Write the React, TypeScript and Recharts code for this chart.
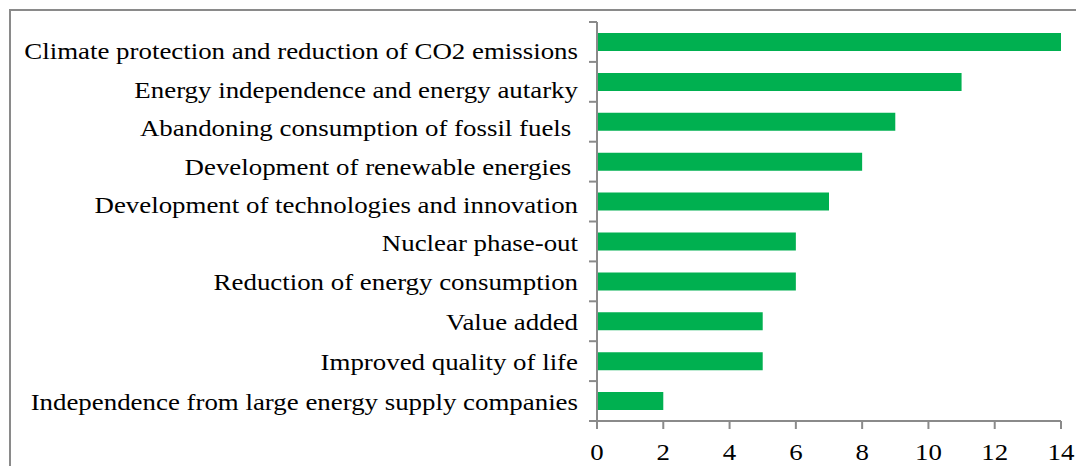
import React from 'react';
import { BarChart, Bar, XAxis, YAxis } from 'recharts';

const motives = [
  'Climate protection and reduction of CO2 emissions',
  'Energy independence and energy autarky',
  'Abandoning consumption of fossil fuels\u00a0',
  'Development of renewable energies\u00a0',
  'Development of technologies and innovation',
  'Nuclear phase-out',
  'Reduction of energy consumption',
  'Value added',
  'Improved quality of life',
  'Independence from large energy supply companies',
];

const mentions = [14, 11, 9, 8, 7, 6, 6, 5, 5, 2];

const xTicks = [0, 2, 4, 6, 8, 10, 12, 14];

const data = motives.map((motive, i) => ({ motive, count: mentions[i] }));

const FONT = '"Liberation Serif", "Times New Roman", serif';
const AXIS_GRAY = '#8a8a8a';
const W = 1076;
const H = 466;
const MARGIN = { top: 22, right: 15, bottom: 0, left: 0 };
const Y_AXIS_W = 597;
const X_AXIS_H = 45;
const PLOT_H = H - MARGIN.top - MARGIN.bottom - X_AXIS_H;
const FS = 24;
// the original picture is a bit stretched sideways
const STRETCH = 1.12;

// category labels plus the excel-style ticks on band boundaries
function CategoryTick(props: any) {
  const { y, payload, index } = props;
  const band = PLOT_H / motives.length;
  const shift = Math.max(0, 9 * (1 - index / 6));
  const axisX = Y_AXIS_W;
  return (
    <g>
      <line x1={axisX - 8} x2={axisX} y1={y - band / 2} y2={y - band / 2} stroke={AXIS_GRAY} strokeWidth={2} />
      {index === motives.length - 1 && (
        <line x1={axisX - 8} x2={axisX} y1={y + band / 2} y2={y + band / 2} stroke={AXIS_GRAY} strokeWidth={2} />
      )}
      <g transform={`translate(${axisX - 19},${y + shift}) scale(${STRETCH},1)`}>
        <text x={0} y={0} dy="0.355em" textAnchor="end" fill="#000" fontSize={FS} fontFamily={FONT} style={{ whiteSpace: 'pre' }}>
          {payload.value}
        </text>
      </g>
    </g>
  );
}

function ValueTick(props: any) {
  const { x, y, payload } = props;
  return (
    <g transform={`translate(${x},${y}) scale(${STRETCH},1)`}>
      <text x={0} y={0} dy="0.71em" textAnchor="middle" fill="#000" fontSize={FS} fontFamily={FONT}>
        {payload.value}
      </text>
    </g>
  );
}

export default function App() {
  return (
    <div style={{ position: 'relative', width: W, height: H, overflow: 'hidden', background: '#fff' }}>
      <style>{'body{margin:0;overflow:hidden}'}</style>
      <div
        style={{
          position: 'absolute',
          left: 9,
          top: 9,
          width: W + 20,
          height: H + 20,
          borderTop: `2px solid ${AXIS_GRAY}`,
          borderLeft: `2px solid ${AXIS_GRAY}`,
        }}
      />
      <div style={{ position: 'absolute', left: 0, top: 0 }}>
        <BarChart width={W} height={H} data={data} layout="vertical" margin={MARGIN}>
          <XAxis
            type="number"
            domain={[0, 14]}
            ticks={xTicks}
            height={X_AXIS_H}
            tickSize={8}
            tickMargin={14}
            interval={0}
            axisLine={{ stroke: AXIS_GRAY, strokeWidth: 2 }}
            tickLine={{ stroke: AXIS_GRAY, strokeWidth: 2 }}
            tick={<ValueTick />}
          />
          <YAxis
            type="category"
            dataKey="motive"
            width={Y_AXIS_W}
            interval={0}
            tickLine={false}
            axisLine={{ stroke: AXIS_GRAY, strokeWidth: 2 }}
            tick={<CategoryTick />}
          />
          <Bar dataKey="count" fill="#00b050" barSize={18} isAnimationActive={false} />
        </BarChart>
      </div>
    </div>
  );
}
